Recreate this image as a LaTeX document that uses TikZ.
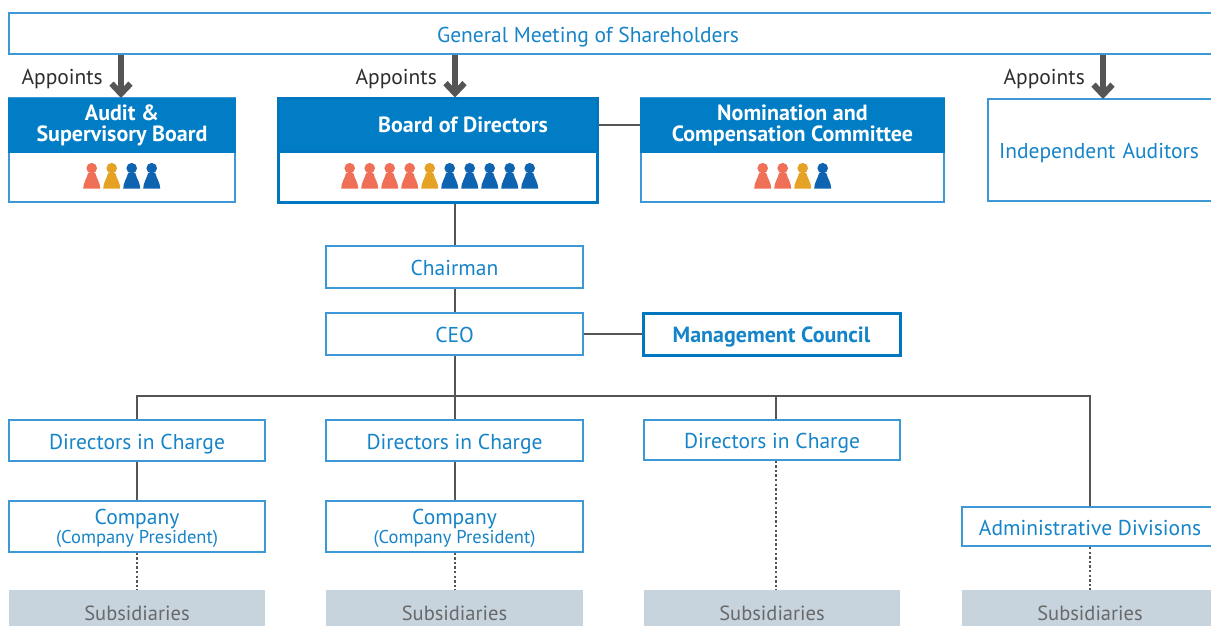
\documentclass[tikz,border=0pt]{standalone}
\usepackage{fontspec}
\setmainfont{PT Sans}
\usetikzlibrary{arrows.meta,calc}
\definecolor{hdr}{RGB}{0,125,197}
\definecolor{bdr}{RGB}{60,152,214}
\definecolor{bdrdark}{RGB}{0,118,192}
\definecolor{txt}{RGB}{22,132,200}
\definecolor{lin}{RGB}{85,85,85}
\definecolor{subfill}{RGB}{199,212,222}
\definecolor{subtxt}{RGB}{105,105,105}
\definecolor{apptxt}{RGB}{45,45,45}
\definecolor{po}{RGB}{240,112,87}
\definecolor{pg}{RGB}{229,162,36}
\definecolor{pb}{RGB}{14,100,176}
\newcommand\regfont{\fontsize{21.5}{23}\selectfont}
\newcommand\boldfont{\bfseries\fontsize{22}{21}\selectfont}
\newcommand\smallfont{\fontsize{18.5}{20}\selectfont}
\tikzset{
  box/.style={draw=bdr, line width=2pt, fill=white, inner sep=0pt, text=txt,
    font=\regfont, align=center},
  oneline/.style={text height=17.5pt, text depth=0pt},
  strongbox/.style={box, draw=bdrdark, line width=3pt},
  hbox/.style={fill=hdr, draw=hdr, line width=2pt, inner sep=0pt, text=white,
    font=\boldfont, align=center},
  subbox/.style={fill=subfill, draw=none, inner sep=0pt, text=subtxt,
    font=\fontsize{20.5}{22}\selectfont},
  apptext/.style={text=apptxt, font=\regfont, inner sep=0pt},
  conn/.style={draw=lin, line width=2.6pt},
  dotconn/.style={draw=lin, line width=2.6pt, dash pattern=on 2.4pt off 2.2pt},
  appoint/.style={draw=lin, line width=6pt, -{Straight Barb[length=10pt,width=19pt]}},
  pawn/.pic={
    \fill[pic actions] (0,-20.5) circle (5.3);
    \fill[pic actions] (-8.5,0) .. controls (-8.5,-6) and (-5,-10) .. (-3.6,-15.5)
      -- (3.6,-15.5) .. controls (5,-10) and (8.5,-6) .. (8.5,0) -- cycle;
  }
}
\begin{document}
\begin{tikzpicture}[x=1pt,y=-1pt]
\useasboundingbox (0,0) rectangle (1211,625);
\clip (0,0) rectangle (1211,625);

% top
\node[box, oneline, minimum width=1206pt, minimum height=41pt] (gm) at (612,33.5)
  {General Meeting of Shareholders\hspace*{48pt}};

% appoint arrow columns
\coordinate (a1) at (121,0);
\coordinate (a2) at (455,0);
\coordinate (a3) at (1103,0);

% Audit
\node[box, minimum width=226pt, minimum height=104pt] (audit) at (122,150) {};
\node[hbox, minimum width=226pt, minimum height=53pt] (auditH) at (122,125)
  {Audit \&\\Supervisory Board};
% Board
\node[strongbox, minimum width=319pt, minimum height=104pt] (board) at (437.5,150) {};
\node[hbox, draw=bdrdark, line width=3pt, minimum width=319pt, minimum height=53pt] (boardH) at (437.5,125)
  {\hspace*{51pt}Board of Directors};
% Nomination
\node[box, minimum width=303pt, minimum height=104pt] (nom) at (792.5,150) {};
\node[hbox, minimum width=303pt, minimum height=53pt] (nomH) at (792.5,125)
  {Nomination and\\Compensation Committee};
% Independent auditors
\node[box, oneline, minimum height=102pt, text width=250pt, inner xsep=11pt, align=left] (ia) at (1124,150)
  {Independent Auditors};

% Appoints labels
\node[apptext, anchor=east] (ap1) at (103,79) {Appoints};
\node[apptext, anchor=east] (ap2) at (437,79) {Appoints};
\node[apptext, anchor=east] (ap3) at (1085,79) {Appoints};

\draw[appoint] (gm.south -| a1) -- ([yshift=-1pt]audit.north -| a1);
\draw[appoint] (gm.south -| a2) -- ([yshift=-1pt]board.north -| a2);
\draw[appoint] (gm.south -| a3) -- ([yshift=-1pt]ia.north -| a3);

% pawns
\foreach \x/\c in {91.7/po,111.7/pg,131.7/pb,151.7/pb}
  \pic[fill=\c] at (\x,188.7) {pawn};
\foreach \x/\c in {349.7/po,369.7/po,389.7/po,409.7/po,429.7/pg,449.7/pb,469.7/pb,489.7/pb,509.7/pb,529.7/pb}
  \pic[fill=\c] at (\x,188.7) {pawn};
\foreach \x/\c in {762.7/po,782.7/po,802.7/pg,822.7/pb}
  \pic[fill=\c] at (\x,188.7) {pawn};

% Chairman / CEO / MC
\node[box, oneline, minimum width=257pt, minimum height=42pt] (chair) at (454.5,267) {Chairman};
\node[box, oneline, minimum width=257pt, minimum height=42pt] (ceo) at (454.5,334) {CEO};
\node[strongbox, oneline, minimum width=257pt, minimum height=42pt, font=\boldfont] (mc) at (771.5,334) {Management Council};

\draw[conn] (boardH.east) -- (nomH.west);
\draw[conn] (board.south -| a2) -- (chair.north -| a2);
\draw[conn] (chair.south -| a2) -- (ceo.north -| a2);
\draw[conn] (ceo.east) -- (mc.west);

% lower level
\node[box, oneline, minimum width=256pt, minimum height=41pt] (d1) at (137,440.5) {Directors in Charge};
\node[box, oneline, minimum width=257pt, minimum height=41pt] (d2) at (454.5,440.5) {Directors in Charge};
\node[box, oneline, minimum width=256pt, minimum height=40pt] (d3) at (772,439.5) {Directors in Charge};
\node[box, oneline, minimum width=256pt, minimum height=39pt] (adm) at (1090,526.5) {Administrative Divisions};

\node[box, text depth=0pt, minimum width=256pt, minimum height=51pt] (c1) at (137,526)
  {Company\\[-4pt]{\smallfont(Company President)}};
\node[box, text depth=0pt, minimum width=257pt, minimum height=51pt] (c2) at (454.5,526)
  {Company\\[-4pt]{\smallfont(Company President)}};

\node[subbox, oneline, minimum width=256pt, minimum height=44pt] (s1) at (137,612) {Subsidiaries};
\node[subbox, oneline, minimum width=257pt, minimum height=44pt] (s2) at (454.5,612) {Subsidiaries};
\node[subbox, oneline, minimum width=256pt, minimum height=44pt] (s3) at (772,612) {Subsidiaries};
\node[subbox, oneline, minimum width=256pt, minimum height=44pt] (s4) at (1090,612) {Subsidiaries};

\coordinate (bus) at (455,396);
\coordinate (x3) at (776,0);
\draw[conn] (ceo.south -| a2) -- (bus);
\draw[conn] (d1.north) -- (d1.north |- bus) -- (adm.north |- bus) -- (adm.north);
\draw[conn] (bus) -- (d2.north -| bus);
\draw[conn] (bus -| x3) -- (d3.north -| x3);
\draw[conn] (d1.south) -- (c1.north);
\draw[conn] (d2.south -| bus) -- (c2.north -| bus);

\draw[dotconn] (c1.south) -- (s1.north);
\draw[dotconn] (c2.south -| bus) -- (s2.north -| bus);
\draw[dotconn] (d3.south -| x3) -- (s3.north -| x3);
\draw[dotconn] (adm.south) -- (s4.north);
\end{tikzpicture}
\end{document}
